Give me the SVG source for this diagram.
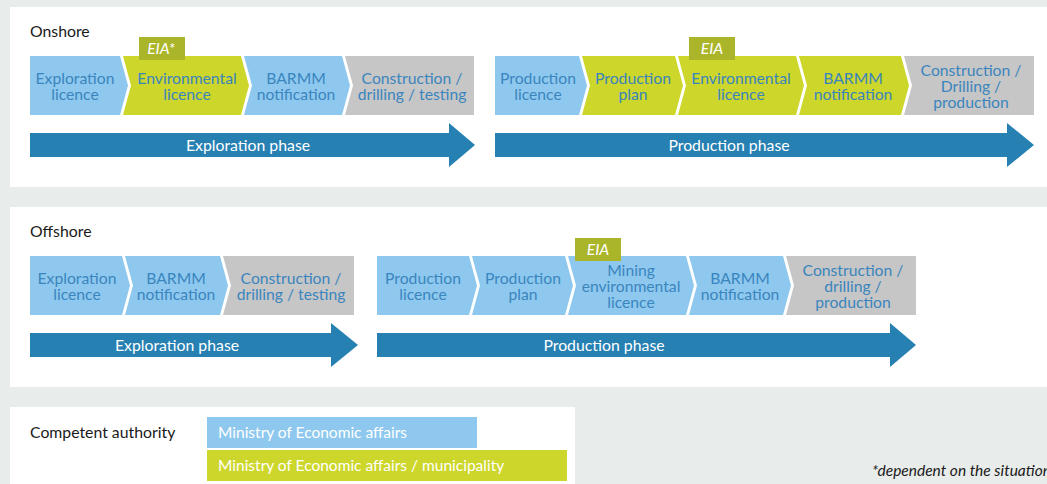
<svg xmlns="http://www.w3.org/2000/svg" width="1047" height="484" viewBox="0 0 1047 484">
<style>
text{font-family:Lato,"Open Sans","Liberation Sans",sans-serif;}
.bg{fill:#e8ecea}
.panel{fill:#ffffff}
.blue{fill:#8ec8ee}
.green{fill:#cdd62a}
.gray{fill:#c6c6c6}
.tag{fill:#abb52a}
.arrow{fill:#2680b2}
.lbl{font-size:15.7px;fill:#3a85be;text-anchor:middle}
.tagt{font-size:15.7px;fill:#ffffff;font-style:italic;text-anchor:middle}
.phase{font-size:15.8px;fill:#ffffff;text-anchor:middle}
.head{font-size:15.8px;fill:#1a1a1a}
.leg{font-size:15.5px;fill:#ffffff}
.note{font-size:15.5px;fill:#1a1a1a;font-style:italic}
</style>
<rect class="bg" x="0" y="0" width="1047" height="484"/>
<rect class="panel" x="10" y="7" width="1037" height="180"/>
<rect class="panel" x="10" y="207" width="1037" height="180"/>
<rect class="panel" x="10" y="407" width="565" height="77"/>

<text class="head" x="30" y="37">Onshore</text>
<text class="head" x="30" y="237">Offshore</text>

<!-- Onshore exploration -->
<g id="on-exp-licence">
<polygon class="blue" points="30,56 120,56 128,85.5 120,115 30,115"/>
<text class="lbl" x="75" y="83.5">Exploration<tspan x="75" dy="16">licence</tspan></text>
</g>
<g id="on-env-licence">
<polygon class="green" points="123,56 241,56 249,85.5 241,115 123,115 131,85.5"/>
<text class="lbl" x="187" y="83.5">Environmental<tspan x="187" dy="16">licence</tspan></text>
</g>
<g id="on-eia-star">
<rect class="tag" x="139" y="37" width="46" height="23"/>
<text class="tagt" x="161" y="54">EIA*</text>
</g>
<g id="on-barmm-1">
<polygon class="blue" points="244,56 342,56 350,85.5 342,115 244,115 252,85.5"/>
<text class="lbl" x="296" y="83.5">BARMM<tspan x="296" dy="16">notification</tspan></text>
</g>
<g id="on-construction-1">
<polygon class="gray" points="345,56 474,56 474,115 345,115 353,85.5"/>
<text class="lbl" x="412" y="83.5">Construction /<tspan x="412" dy="16">drilling / testing</tspan></text>
</g>
<g id="on-exploration-phase">
<polygon class="arrow" points="30,133 449,133 449,123 475,145 449,167 449,157 30,157"/>
<text class="phase" x="248" y="150.5">Exploration phase</text>
</g>

<!-- Onshore production -->
<g id="on-prod-licence">
<polygon class="blue" points="495,56 579,56 587,85.5 579,115 495,115"/>
<text class="lbl" x="538" y="83.5">Production<tspan x="538" dy="16">licence</tspan></text>
</g>
<g id="on-prod-plan">
<polygon class="green" points="582,56 675,56 683,85.5 675,115 582,115 590,85.5"/>
<text class="lbl" x="633" y="83.5">Production<tspan x="633" dy="16">plan</tspan></text>
</g>
<g id="on-env-licence-2">
<polygon class="green" points="678,56 796,56 804,85.5 796,115 678,115 686,85.5"/>
<text class="lbl" x="741" y="83.5">Environmental<tspan x="741" dy="16">licence</tspan></text>
</g>
<g id="on-eia">
<rect class="tag" x="689" y="37" width="46" height="23"/>
<text class="tagt" x="712" y="54">EIA</text>
</g>
<g id="on-barmm-2">
<polygon class="green" points="799,56 901,56 909,85.5 901,115 799,115 807,85.5"/>
<text class="lbl" x="853" y="83.5">BARMM<tspan x="853" dy="16">notification</tspan></text>
</g>
<g id="on-construction-2">
<polygon class="gray" points="904,56 1034,56 1034,115 904,115 912,85.5"/>
<text class="lbl" x="971" y="75.5">Construction /<tspan x="971" dy="16">Drilling /</tspan><tspan x="971" dy="16">production</tspan></text>
</g>
<g id="on-production-phase">
<polygon class="arrow" points="495,133 1007,133 1007,123 1034,145 1007,167 1007,157 495,157"/>
<text class="phase" x="729" y="150.5">Production phase</text>
</g>

<!-- Offshore exploration -->
<g id="off-exp-licence">
<polygon class="blue" points="30,256 122,256 130,285.5 122,315 30,315"/>
<text class="lbl" x="77" y="283.5">Exploration<tspan x="77" dy="16">licence</tspan></text>
</g>
<g id="off-barmm-1">
<polygon class="blue" points="125,256 220,256 228,285.5 220,315 125,315 133,285.5"/>
<text class="lbl" x="176" y="283.5">BARMM<tspan x="176" dy="16">notification</tspan></text>
</g>
<g id="off-construction-1">
<polygon class="gray" points="223,256 354,256 354,315 223,315 231,285.5"/>
<text class="lbl" x="291" y="283.5">Construction /<tspan x="291" dy="16">drilling / testing</tspan></text>
</g>
<g id="off-exploration-phase">
<polygon class="arrow" points="30,333 331,333 331,323 358,345 331,367 331,357 30,357"/>
<text class="phase" x="177" y="350.5">Exploration phase</text>
</g>

<!-- Offshore production -->
<g id="off-prod-licence">
<polygon class="blue" points="377,256 469,256 477,285.5 469,315 377,315"/>
<text class="lbl" x="423" y="283.5">Production<tspan x="423" dy="16">licence</tspan></text>
</g>
<g id="off-prod-plan">
<polygon class="blue" points="472,256 565,256 573,285.5 565,315 472,315 480,285.5"/>
<text class="lbl" x="523" y="283.5">Production<tspan x="523" dy="16">plan</tspan></text>
</g>
<g id="off-mining-env">
<polygon class="blue" points="568,256 686,256 694,285.5 686,315 568,315 576,285.5"/>
<text class="lbl" x="631" y="275.5">Mining<tspan x="631" dy="16">environmental</tspan><tspan x="631" dy="16">licence</tspan></text>
</g>
<g id="off-eia">
<rect class="tag" x="575" y="238" width="46" height="23"/>
<text class="tagt" x="598" y="255">EIA</text>
</g>
<g id="off-barmm-2">
<polygon class="blue" points="689,256 783,256 791,285.5 783,315 689,315 697,285.5"/>
<text class="lbl" x="740" y="283.5">BARMM<tspan x="740" dy="16">notification</tspan></text>
</g>
<g id="off-construction-2">
<polygon class="gray" points="786,256 916,256 916,315 786,315 794,285.5"/>
<text class="lbl" x="853" y="275.5">Construction /<tspan x="853" dy="16">drilling /</tspan><tspan x="853" dy="16">production</tspan></text>
</g>
<g id="off-production-phase">
<polygon class="arrow" points="377,333 890,333 890,323 916,345 890,367 890,357 377,357"/>
<text class="phase" x="604" y="350.5">Production phase</text>
</g>

<g id="connectors"></g>

<!-- Legend -->
<g id="legend">
<text class="head" x="30" y="438">Competent authority</text>
<rect class="blue" x="207" y="417" width="270" height="31"/>
<text class="leg" x="218" y="438">Ministry of Economic affairs</text>
<rect class="green" x="207" y="450" width="360" height="31"/>
<text class="leg" x="218" y="471">Ministry of Economic affairs / municipality</text>
</g>
<text class="note" x="872" y="476">*dependent on the situation</text>
</svg>
